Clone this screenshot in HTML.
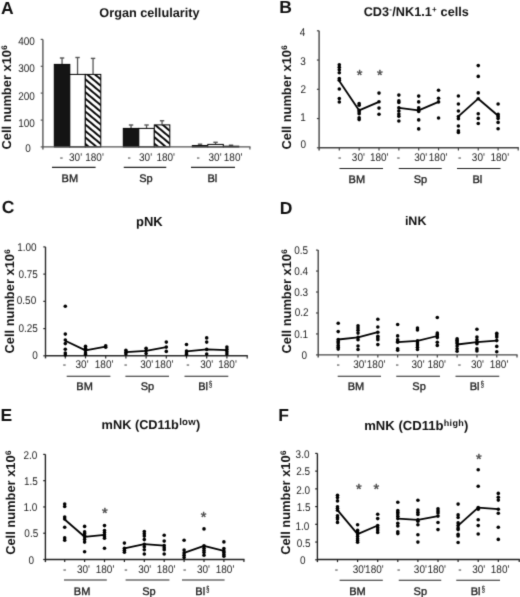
<!DOCTYPE html>
<html><head><meta charset="utf-8"><style>
html,body{margin:0;padding:0;background:#fff;}
svg{display:block;font-family:"Liberation Sans",sans-serif;text-rendering:geometricPrecision;}
#w{width:520px;height:597px;filter:grayscale(1);}
</style></head><body>
<div id="w"><svg width="520" height="597" viewBox="0 0 520 597">
<defs><filter id="soft" x="0" y="0" width="520" height="597" filterUnits="userSpaceOnUse" color-interpolation-filters="sRGB"><feConvolveMatrix order="3" kernelMatrix="1 6 1 6 36 6 1 6 1" divisor="64" edgeMode="duplicate" preserveAlpha="false"/></filter></defs>
<g filter="url(#soft)">
<rect width="520" height="597" fill="#fff"/>
<text x="0.91" y="14.4" font-size="17.5" font-weight="bold" fill="#111" >A</text>
<text x="99.34" y="16.6" font-size="12.7" font-weight="bold" fill="#111"><tspan>Organ cellularity</tspan></text>
<text transform="translate(11.15,149.57) rotate(-90)" font-size="12.9" font-weight="bold" fill="#111">Cell number x10<tspan font-size="8" dx="0.3" dy="-4.2">6</tspan></text>
<line x1="42.9" y1="39.4" x2="42.9" y2="149.5" stroke="#555" stroke-width="1.4"/>
<line x1="40.7" y1="39.4" x2="42.9" y2="39.4" stroke="#555" stroke-width="1.2"/>
<line x1="40.7" y1="66.3" x2="42.9" y2="66.3" stroke="#555" stroke-width="1.2"/>
<line x1="40.7" y1="93.1" x2="42.9" y2="93.1" stroke="#555" stroke-width="1.2"/>
<line x1="40.7" y1="120.1" x2="42.9" y2="120.1" stroke="#555" stroke-width="1.2"/>
<line x1="40.7" y1="146.9" x2="42.9" y2="146.9" stroke="#555" stroke-width="1.2"/>
<text transform="translate(18.25,45.2) scale(1,1.12)" font-size="10" font-weight="normal" fill="#1e1e1e">400</text>
<text transform="translate(18.25,72.0) scale(1,1.12)" font-size="10" font-weight="normal" fill="#1e1e1e">300</text>
<text transform="translate(18.25,99.5) scale(1,1.12)" font-size="10" font-weight="normal" fill="#1e1e1e">200</text>
<text transform="translate(18.25,126.5) scale(1,1.12)" font-size="10" font-weight="normal" fill="#1e1e1e">100</text>
<text transform="translate(25.35,151.9) scale(1,1.12)" font-size="10" font-weight="normal" fill="#1e1e1e">0</text>
<defs><pattern id="hatch" patternUnits="userSpaceOnUse" width="4.95" height="10" patternTransform="translate(84.8,99.5) rotate(-50)">
<rect width="4.95" height="10" fill="#fff"/><rect x="0" y="0" width="1.9" height="10" fill="#000"/></pattern></defs>
<line x1="62.05" y1="58.0" x2="62.05" y2="64.0" stroke="#555" stroke-width="1.3"/>
<line x1="59.85" y1="58.0" x2="64.25" y2="58.0" stroke="#555" stroke-width="1.4"/>
<line x1="77.55" y1="57.5" x2="77.55" y2="74.0" stroke="#555" stroke-width="1.3"/>
<line x1="75.35" y1="57.5" x2="79.75" y2="57.5" stroke="#555" stroke-width="1.4"/>
<line x1="93.05" y1="58.4" x2="93.05" y2="74.0" stroke="#555" stroke-width="1.3"/>
<line x1="90.85" y1="58.4" x2="95.25" y2="58.4" stroke="#555" stroke-width="1.4"/>
<line x1="131.05" y1="125.0" x2="131.05" y2="128.0" stroke="#555" stroke-width="1.3"/>
<line x1="128.85" y1="125.0" x2="133.25" y2="125.0" stroke="#555" stroke-width="1.4"/>
<line x1="146.55" y1="125.0" x2="146.55" y2="128.0" stroke="#555" stroke-width="1.3"/>
<line x1="144.35" y1="125.0" x2="148.75" y2="125.0" stroke="#555" stroke-width="1.4"/>
<line x1="162.05" y1="120.75" x2="162.05" y2="124.5" stroke="#555" stroke-width="1.3"/>
<line x1="159.85" y1="120.75" x2="164.25" y2="120.75" stroke="#555" stroke-width="1.4"/>
<line x1="200.05" y1="144.2" x2="200.05" y2="145.2" stroke="#555" stroke-width="1.3"/>
<line x1="197.85" y1="144.2" x2="202.25" y2="144.2" stroke="#555" stroke-width="1.4"/>
<line x1="215.55" y1="142.3" x2="215.55" y2="144.0" stroke="#555" stroke-width="1.3"/>
<line x1="213.35" y1="142.3" x2="217.75" y2="142.3" stroke="#555" stroke-width="1.4"/>
<line x1="231.05" y1="145.2" x2="231.05" y2="145.8" stroke="#555" stroke-width="1.3"/>
<line x1="228.85" y1="145.2" x2="233.25" y2="145.2" stroke="#555" stroke-width="1.4"/>
<rect x="54.3" y="64.4" width="15.5" height="82.5" fill="#141414" stroke="#000" stroke-width="1"/>
<rect x="69.8" y="74.4" width="15.5" height="72.5" fill="#fff" stroke="#000" stroke-width="1"/>
<rect x="85.3" y="74.4" width="15.5" height="72.5" fill="url(#hatch)" stroke="#000" stroke-width="1"/>
<rect x="123.3" y="128.4" width="15.5" height="18.5" fill="#141414" stroke="#000" stroke-width="1"/>
<rect x="138.8" y="128.4" width="15.5" height="18.5" fill="#fff" stroke="#000" stroke-width="1"/>
<rect x="154.3" y="124.9" width="15.5" height="22.0" fill="url(#hatch)" stroke="#000" stroke-width="1"/>
<rect x="192.3" y="145.6" width="15.5" height="1.3" fill="#141414" stroke="#000" stroke-width="1"/>
<rect x="207.8" y="144.4" width="15.5" height="2.5" fill="#fff" stroke="#000" stroke-width="1"/>
<rect x="223.3" y="146.2" width="15.5" height="0.7" fill="url(#hatch)" stroke="#000" stroke-width="1"/>
<line x1="42.9" y1="146.9" x2="250.5" y2="146.9" stroke="#555" stroke-width="1.4"/>
<line x1="249.9" y1="146.9" x2="249.9" y2="149.5" stroke="#555" stroke-width="1.2"/>
<text transform="translate(59.65,160.8) scale(1,1.12)" font-size="10" font-weight="normal" fill="#1e1e1e" >-</text>
<text transform="translate(69.05,160.8) scale(1,1.12)" font-size="10" font-weight="normal" fill="#1e1e1e" >30'</text>
<text transform="translate(85.2,160.8) scale(1,1.12)" font-size="10" font-weight="normal" fill="#1e1e1e" >180'</text>
<text transform="translate(127.6,160.8) scale(1,1.12)" font-size="10" font-weight="normal" fill="#1e1e1e" >-</text>
<text transform="translate(139.05,160.8) scale(1,1.12)" font-size="10" font-weight="normal" fill="#1e1e1e" >30'</text>
<text transform="translate(156.4,160.8) scale(1,1.12)" font-size="10" font-weight="normal" fill="#1e1e1e" >180'</text>
<text transform="translate(196.6,160.8) scale(1,1.12)" font-size="10" font-weight="normal" fill="#1e1e1e" >-</text>
<text transform="translate(208.55,160.8) scale(1,1.12)" font-size="10" font-weight="normal" fill="#1e1e1e" >30'</text>
<text transform="translate(223.8,160.8) scale(1,1.12)" font-size="10" font-weight="normal" fill="#1e1e1e" >180'</text>
<line x1="52.0" y1="167.4" x2="95.6" y2="167.4" stroke="#222" stroke-width="1.1"/>
<line x1="123.75" y1="167.4" x2="166.25" y2="167.4" stroke="#222" stroke-width="1.1"/>
<line x1="191.0" y1="167.4" x2="235.0" y2="167.4" stroke="#222" stroke-width="1.1"/>
<text x="61.57" y="181.9" font-size="11" fill="#1a1a1a" stroke="#1a1a1a" stroke-width="0.3">BM</text>
<text x="139.16" y="181.9" font-size="11" fill="#1a1a1a" stroke="#1a1a1a" stroke-width="0.3">Sp</text>
<text x="207.47" y="181.9" font-size="11" fill="#1a1a1a" stroke="#1a1a1a" stroke-width="0.3">Bl</text>
<text x="279.21" y="12.7" font-size="17.5" font-weight="bold" fill="#111" >B</text>
<text x="363.64" y="16.3" font-size="12.7" font-weight="bold" fill="#111"><tspan>CD3</tspan><tspan font-size="8" dx="0.3" dy="-4.2" letter-spacing="0.3">-</tspan><tspan dy="4.2">/NK1.1</tspan><tspan font-size="8" dx="0.3" dy="-4.2" letter-spacing="0.3">+</tspan><tspan dy="4.2"> cells</tspan></text>
<text transform="translate(291.15,149.57) rotate(-90)" font-size="12.9" font-weight="bold" fill="#111">Cell number x10<tspan font-size="8" dx="0.3" dy="-4.2">6</tspan></text>
<line x1="319.1" y1="30.8" x2="319.1" y2="150.4" stroke="#444" stroke-width="1.4"/>
<line x1="316.9" y1="30.8" x2="319.1" y2="30.8" stroke="#444" stroke-width="1.2"/>
<line x1="316.9" y1="60.05" x2="319.1" y2="60.05" stroke="#444" stroke-width="1.2"/>
<line x1="316.9" y1="89.3" x2="319.1" y2="89.3" stroke="#444" stroke-width="1.2"/>
<line x1="316.9" y1="118.55" x2="319.1" y2="118.55" stroke="#444" stroke-width="1.2"/>
<line x1="316.9" y1="147.8" x2="319.1" y2="147.8" stroke="#444" stroke-width="1.2"/>
<text transform="translate(299.8,35.8) scale(1,1.12)" font-size="10" font-weight="normal" fill="#1e1e1e">4</text>
<text transform="translate(300.3,64.8) scale(1,1.12)" font-size="10" font-weight="normal" fill="#1e1e1e">3</text>
<text transform="translate(300.6,93.1) scale(1,1.12)" font-size="10" font-weight="normal" fill="#1e1e1e">2</text>
<text transform="translate(300.25,120.6) scale(1,1.12)" font-size="10" font-weight="normal" fill="#1e1e1e">1</text>
<text transform="translate(300.45,148.2) scale(1,1.12)" font-size="10" font-weight="normal" fill="#1e1e1e">0</text>
<line x1="319.1" y1="147.8" x2="518.8" y2="147.8" stroke="#444" stroke-width="1.4"/>
<line x1="339.3" y1="147.8" x2="339.3" y2="150.4" stroke="#444" stroke-width="1.2"/>
<line x1="359.15" y1="147.8" x2="359.15" y2="150.4" stroke="#444" stroke-width="1.2"/>
<line x1="379.0" y1="147.8" x2="379.0" y2="150.4" stroke="#444" stroke-width="1.2"/>
<line x1="398.85" y1="147.8" x2="398.85" y2="150.4" stroke="#444" stroke-width="1.2"/>
<line x1="418.7" y1="147.8" x2="418.7" y2="150.4" stroke="#444" stroke-width="1.2"/>
<line x1="438.55" y1="147.8" x2="438.55" y2="150.4" stroke="#444" stroke-width="1.2"/>
<line x1="458.4" y1="147.8" x2="458.4" y2="150.4" stroke="#444" stroke-width="1.2"/>
<line x1="478.25" y1="147.8" x2="478.25" y2="150.4" stroke="#444" stroke-width="1.2"/>
<line x1="498.1" y1="147.8" x2="498.1" y2="150.4" stroke="#444" stroke-width="1.2"/>
<line x1="518.2" y1="147.8" x2="518.2" y2="150.4" stroke="#444" stroke-width="1.2"/>
<polyline points="339.3,81.0 359.15,110.4 379.0,101.8" fill="none" stroke="#000" stroke-width="1.8" stroke-linejoin="round"/>
<polyline points="398.85,107.8 418.7,110.4 438.55,101.9" fill="none" stroke="#000" stroke-width="1.8" stroke-linejoin="round"/>
<polyline points="458.4,116.4 478.25,98.7 498.1,115.7" fill="none" stroke="#000" stroke-width="1.8" stroke-linejoin="round"/>
<circle cx="339.3" cy="64.7" r="1.8" fill="#000"/>
<circle cx="339.3" cy="67.2" r="1.8" fill="#000"/>
<circle cx="339.3" cy="69.7" r="1.8" fill="#000"/>
<circle cx="339.3" cy="72.7" r="1.8" fill="#000"/>
<circle cx="339.3" cy="78.5" r="1.8" fill="#000"/>
<circle cx="339.3" cy="80.2" r="1.8" fill="#000"/>
<circle cx="339.3" cy="89.0" r="1.8" fill="#000"/>
<circle cx="339.3" cy="98.6" r="1.8" fill="#000"/>
<circle cx="339.3" cy="102.0" r="1.8" fill="#000"/>
<circle cx="359.15" cy="103.5" r="1.8" fill="#000"/>
<circle cx="359.15" cy="105.2" r="1.8" fill="#000"/>
<circle cx="359.15" cy="110.4" r="1.8" fill="#000"/>
<circle cx="359.15" cy="111.9" r="1.8" fill="#000"/>
<circle cx="359.15" cy="113.8" r="1.8" fill="#000"/>
<circle cx="359.15" cy="117.7" r="1.8" fill="#000"/>
<circle cx="359.15" cy="119.6" r="1.8" fill="#000"/>
<circle cx="379.0" cy="93.1" r="1.8" fill="#000"/>
<circle cx="379.0" cy="101.8" r="1.8" fill="#000"/>
<circle cx="379.0" cy="108.1" r="1.8" fill="#000"/>
<circle cx="379.0" cy="114.2" r="1.8" fill="#000"/>
<circle cx="398.85" cy="95.1" r="1.8" fill="#000"/>
<circle cx="398.85" cy="100.9" r="1.8" fill="#000"/>
<circle cx="398.85" cy="102.5" r="1.8" fill="#000"/>
<circle cx="398.85" cy="107.8" r="1.8" fill="#000"/>
<circle cx="398.85" cy="110.9" r="1.8" fill="#000"/>
<circle cx="398.85" cy="114.1" r="1.8" fill="#000"/>
<circle cx="398.85" cy="116.2" r="1.8" fill="#000"/>
<circle cx="398.85" cy="121.0" r="1.8" fill="#000"/>
<circle cx="418.7" cy="96.1" r="1.8" fill="#000"/>
<circle cx="418.7" cy="101.9" r="1.8" fill="#000"/>
<circle cx="418.7" cy="107.8" r="1.8" fill="#000"/>
<circle cx="418.7" cy="109.9" r="1.8" fill="#000"/>
<circle cx="418.7" cy="111.5" r="1.8" fill="#000"/>
<circle cx="418.7" cy="119.9" r="1.8" fill="#000"/>
<circle cx="418.7" cy="128.9" r="1.8" fill="#000"/>
<circle cx="438.55" cy="90.3" r="1.8" fill="#000"/>
<circle cx="438.55" cy="98.2" r="1.8" fill="#000"/>
<circle cx="438.55" cy="101.9" r="1.8" fill="#000"/>
<circle cx="438.55" cy="118.0" r="1.8" fill="#000"/>
<circle cx="458.4" cy="96.0" r="1.8" fill="#000"/>
<circle cx="458.4" cy="104.0" r="1.8" fill="#000"/>
<circle cx="458.4" cy="111.0" r="1.8" fill="#000"/>
<circle cx="458.4" cy="116.6" r="1.8" fill="#000"/>
<circle cx="458.4" cy="118.8" r="1.8" fill="#000"/>
<circle cx="458.4" cy="126.0" r="1.8" fill="#000"/>
<circle cx="458.4" cy="130.9" r="1.8" fill="#000"/>
<circle cx="458.4" cy="132.5" r="1.8" fill="#000"/>
<circle cx="478.25" cy="65.6" r="1.8" fill="#000"/>
<circle cx="478.25" cy="76.4" r="1.8" fill="#000"/>
<circle cx="478.25" cy="92.9" r="1.8" fill="#000"/>
<circle cx="478.25" cy="98.7" r="1.8" fill="#000"/>
<circle cx="478.25" cy="113.7" r="1.8" fill="#000"/>
<circle cx="478.25" cy="118.4" r="1.8" fill="#000"/>
<circle cx="478.25" cy="123.5" r="1.8" fill="#000"/>
<circle cx="498.1" cy="104.0" r="1.8" fill="#000"/>
<circle cx="498.1" cy="114.4" r="1.8" fill="#000"/>
<circle cx="498.1" cy="116.4" r="1.8" fill="#000"/>
<circle cx="498.1" cy="118.4" r="1.8" fill="#000"/>
<circle cx="498.1" cy="122.4" r="1.8" fill="#000"/>
<circle cx="498.1" cy="128.7" r="1.8" fill="#000"/>
<text x="359.6" y="79.65" font-size="14.5" text-anchor="middle" fill="#4a4a4a" stroke="#4a4a4a" stroke-width="0.45" stroke-linejoin="round">*</text>
<text x="379.8" y="79.65" font-size="14.5" text-anchor="middle" fill="#4a4a4a" stroke="#4a4a4a" stroke-width="0.45" stroke-linejoin="round">*</text>
<text transform="translate(337.9,160.9) scale(1,1.12)" font-size="10" font-weight="normal" fill="#1e1e1e" >-</text>
<text transform="translate(351.85,160.9) scale(1,1.12)" font-size="10" font-weight="normal" fill="#1e1e1e" >30'</text>
<text transform="translate(369.9,160.9) scale(1,1.12)" font-size="10" font-weight="normal" fill="#1e1e1e" >180'</text>
<text transform="translate(396.8,160.9) scale(1,1.12)" font-size="10" font-weight="normal" fill="#1e1e1e" >-</text>
<text transform="translate(414.15,160.9) scale(1,1.12)" font-size="10" font-weight="normal" fill="#1e1e1e" >30'</text>
<text transform="translate(428.8,160.9) scale(1,1.12)" font-size="10" font-weight="normal" fill="#1e1e1e" >180'</text>
<text transform="translate(457.9,160.9) scale(1,1.12)" font-size="10" font-weight="normal" fill="#1e1e1e" >-</text>
<text transform="translate(471.85,160.9) scale(1,1.12)" font-size="10" font-weight="normal" fill="#1e1e1e" >30'</text>
<text transform="translate(490.5,160.9) scale(1,1.12)" font-size="10" font-weight="normal" fill="#1e1e1e" >180'</text>
<line x1="339.5" y1="168.5" x2="383.0" y2="168.5" stroke="#222" stroke-width="1.1"/>
<line x1="398.75" y1="168.5" x2="441.75" y2="168.5" stroke="#222" stroke-width="1.1"/>
<line x1="457.0" y1="168.5" x2="500.5" y2="168.5" stroke="#222" stroke-width="1.1"/>
<text x="348.57" y="182.9" font-size="11" fill="#1a1a1a" stroke="#1a1a1a" stroke-width="0.3">BM</text>
<text x="413.66" y="182.9" font-size="11" fill="#1a1a1a" stroke="#1a1a1a" stroke-width="0.3">Sp</text>
<text x="472.47" y="182.9" font-size="11" fill="#1a1a1a" stroke="#1a1a1a" stroke-width="0.3">Bl</text>
<text x="1.75" y="213.4" font-size="17.5" font-weight="bold" fill="#111" >C</text>
<text x="136.0" y="225.9" font-size="13" font-weight="bold" fill="#111"><tspan>pNK</tspan></text>
<text transform="translate(14.35,353.57) rotate(-90)" font-size="12.9" font-weight="bold" fill="#111">Cell number x10<tspan font-size="8" dx="0.3" dy="-4.2">6</tspan></text>
<line x1="45.5" y1="246.9" x2="45.5" y2="358.4" stroke="#2a2a2a" stroke-width="1.4"/>
<line x1="43.3" y1="246.9" x2="45.5" y2="246.9" stroke="#2a2a2a" stroke-width="1.2"/>
<line x1="43.3" y1="274.12" x2="45.5" y2="274.12" stroke="#2a2a2a" stroke-width="1.2"/>
<line x1="43.3" y1="301.35" x2="45.5" y2="301.35" stroke="#2a2a2a" stroke-width="1.2"/>
<line x1="43.3" y1="328.58" x2="45.5" y2="328.58" stroke="#2a2a2a" stroke-width="1.2"/>
<line x1="43.3" y1="355.8" x2="45.5" y2="355.8" stroke="#2a2a2a" stroke-width="1.2"/>
<text transform="translate(17.15,250.8) scale(1,1.12)" font-size="10" font-weight="normal" fill="#1e1e1e">1.00</text>
<text transform="translate(18.4,277.9) scale(1,1.12)" font-size="10" font-weight="normal" fill="#1e1e1e">0.75</text>
<text transform="translate(16.75,304.2) scale(1,1.12)" font-size="10" font-weight="normal" fill="#1e1e1e">0.50</text>
<text transform="translate(18.4,332.2) scale(1,1.12)" font-size="10" font-weight="normal" fill="#1e1e1e">0.25</text>
<text transform="translate(32.25,358.5) scale(1,1.12)" font-size="10" font-weight="normal" fill="#1e1e1e">0</text>
<line x1="45.5" y1="355.8" x2="247.8" y2="355.8" stroke="#2a2a2a" stroke-width="1.4"/>
<line x1="65.3" y1="355.8" x2="65.3" y2="358.4" stroke="#2a2a2a" stroke-width="1.2"/>
<line x1="85.5" y1="355.8" x2="85.5" y2="358.4" stroke="#2a2a2a" stroke-width="1.2"/>
<line x1="105.7" y1="355.8" x2="105.7" y2="358.4" stroke="#2a2a2a" stroke-width="1.2"/>
<line x1="125.9" y1="355.8" x2="125.9" y2="358.4" stroke="#2a2a2a" stroke-width="1.2"/>
<line x1="146.1" y1="355.8" x2="146.1" y2="358.4" stroke="#2a2a2a" stroke-width="1.2"/>
<line x1="166.3" y1="355.8" x2="166.3" y2="358.4" stroke="#2a2a2a" stroke-width="1.2"/>
<line x1="186.5" y1="355.8" x2="186.5" y2="358.4" stroke="#2a2a2a" stroke-width="1.2"/>
<line x1="206.7" y1="355.8" x2="206.7" y2="358.4" stroke="#2a2a2a" stroke-width="1.2"/>
<line x1="226.9" y1="355.8" x2="226.9" y2="358.4" stroke="#2a2a2a" stroke-width="1.2"/>
<line x1="247.2" y1="355.8" x2="247.2" y2="358.4" stroke="#2a2a2a" stroke-width="1.2"/>
<polyline points="65.3,340.7 85.5,350.4 105.7,346.7" fill="none" stroke="#000" stroke-width="1.8" stroke-linejoin="round"/>
<polyline points="125.9,352.1 146.1,350.9 166.3,347.1" fill="none" stroke="#000" stroke-width="1.8" stroke-linejoin="round"/>
<polyline points="186.5,351.4 206.7,349.4 226.9,350.2" fill="none" stroke="#000" stroke-width="1.8" stroke-linejoin="round"/>
<circle cx="65.3" cy="306.2" r="1.8" fill="#000"/>
<circle cx="65.3" cy="334.1" r="1.8" fill="#000"/>
<circle cx="65.3" cy="340.0" r="1.8" fill="#000"/>
<circle cx="65.3" cy="343.6" r="1.8" fill="#000"/>
<circle cx="65.3" cy="349.3" r="1.8" fill="#000"/>
<circle cx="65.3" cy="353.0" r="1.8" fill="#000"/>
<circle cx="65.3" cy="355.0" r="1.8" fill="#000"/>
<circle cx="85.5" cy="346.2" r="1.8" fill="#000"/>
<circle cx="85.5" cy="348.3" r="1.8" fill="#000"/>
<circle cx="85.5" cy="350.4" r="1.8" fill="#000"/>
<circle cx="85.5" cy="353.0" r="1.8" fill="#000"/>
<circle cx="85.5" cy="354.5" r="1.8" fill="#000"/>
<circle cx="105.7" cy="345.7" r="1.8" fill="#000"/>
<circle cx="105.7" cy="347.2" r="1.8" fill="#000"/>
<circle cx="125.9" cy="350.2" r="1.8" fill="#000"/>
<circle cx="125.9" cy="352.3" r="1.8" fill="#000"/>
<circle cx="125.9" cy="354.0" r="1.8" fill="#000"/>
<circle cx="146.1" cy="348.3" r="1.8" fill="#000"/>
<circle cx="146.1" cy="350.6" r="1.8" fill="#000"/>
<circle cx="146.1" cy="353.5" r="1.8" fill="#000"/>
<circle cx="166.3" cy="342.1" r="1.8" fill="#000"/>
<circle cx="166.3" cy="347.1" r="1.8" fill="#000"/>
<circle cx="166.3" cy="351.4" r="1.8" fill="#000"/>
<circle cx="186.5" cy="344.5" r="1.8" fill="#000"/>
<circle cx="186.5" cy="351.1" r="1.8" fill="#000"/>
<circle cx="186.5" cy="352.9" r="1.8" fill="#000"/>
<circle cx="186.5" cy="354.6" r="1.8" fill="#000"/>
<circle cx="206.7" cy="337.9" r="1.8" fill="#000"/>
<circle cx="206.7" cy="342.1" r="1.8" fill="#000"/>
<circle cx="206.7" cy="349.4" r="1.8" fill="#000"/>
<circle cx="206.7" cy="354.0" r="1.8" fill="#000"/>
<circle cx="226.9" cy="347.1" r="1.8" fill="#000"/>
<circle cx="226.9" cy="349.4" r="1.8" fill="#000"/>
<circle cx="226.9" cy="351.7" r="1.8" fill="#000"/>
<circle cx="226.9" cy="354.0" r="1.8" fill="#000"/>
<text transform="translate(62.8,368.0) scale(1,1.12)" font-size="10" font-weight="normal" fill="#1e1e1e" >-</text>
<text transform="translate(75.55,368.0) scale(1,1.12)" font-size="10" font-weight="normal" fill="#1e1e1e" >30'</text>
<text transform="translate(94.8,368.0) scale(1,1.12)" font-size="10" font-weight="normal" fill="#1e1e1e" >180'</text>
<text transform="translate(123.9,368.0) scale(1,1.12)" font-size="10" font-weight="normal" fill="#1e1e1e" >-</text>
<text transform="translate(140.15,368.0) scale(1,1.12)" font-size="10" font-weight="normal" fill="#1e1e1e" >30'</text>
<text transform="translate(154.8,368.0) scale(1,1.12)" font-size="10" font-weight="normal" fill="#1e1e1e" >180'</text>
<text transform="translate(186.2,368.0) scale(1,1.12)" font-size="10" font-weight="normal" fill="#1e1e1e" >-</text>
<text transform="translate(200.15,368.0) scale(1,1.12)" font-size="10" font-weight="normal" fill="#1e1e1e" >30'</text>
<text transform="translate(218.2,368.0) scale(1,1.12)" font-size="10" font-weight="normal" fill="#1e1e1e" >180'</text>
<line x1="66.7" y1="376.3" x2="110.4" y2="376.3" stroke="#222" stroke-width="1.1"/>
<line x1="125.4" y1="376.3" x2="169.0" y2="376.3" stroke="#222" stroke-width="1.1"/>
<line x1="184.5" y1="376.3" x2="228.3" y2="376.3" stroke="#222" stroke-width="1.1"/>
<text x="76.37" y="389.7" font-size="11" fill="#1a1a1a" stroke="#1a1a1a" stroke-width="0.3">BM</text>
<text x="140.66" y="389.7" font-size="11" fill="#1a1a1a" stroke="#1a1a1a" stroke-width="0.3">Sp</text>
<text x="198.17" y="389.7" font-size="11" fill="#1a1a1a" stroke="#1a1a1a" stroke-width="0.3">Bl</text>
<text transform="translate(209.09,387.1) scale(0.65,1)" font-size="8.6" fill="#222" stroke="#222" stroke-width="0.25">§</text>
<text x="279.81" y="213.6" font-size="17.5" font-weight="bold" fill="#111" >D</text>
<text x="404.88" y="225.4" font-size="12.5" font-weight="bold" fill="#111"><tspan>iNK</tspan></text>
<text transform="translate(291.15,353.57) rotate(-90)" font-size="12.9" font-weight="bold" fill="#111">Cell number x10<tspan font-size="8" dx="0.3" dy="-4.2">6</tspan></text>
<line x1="318.2" y1="250.1" x2="318.2" y2="357.5" stroke="#444" stroke-width="1.4"/>
<line x1="316.0" y1="250.1" x2="318.2" y2="250.1" stroke="#444" stroke-width="1.2"/>
<line x1="316.0" y1="271.06" x2="318.2" y2="271.06" stroke="#444" stroke-width="1.2"/>
<line x1="316.0" y1="292.02" x2="318.2" y2="292.02" stroke="#444" stroke-width="1.2"/>
<line x1="316.0" y1="312.98" x2="318.2" y2="312.98" stroke="#444" stroke-width="1.2"/>
<line x1="316.0" y1="333.94" x2="318.2" y2="333.94" stroke="#444" stroke-width="1.2"/>
<line x1="316.0" y1="354.9" x2="318.2" y2="354.9" stroke="#444" stroke-width="1.2"/>
<text transform="translate(294.25,253.7) scale(1,1.12)" font-size="10" font-weight="normal" fill="#1e1e1e">0.5</text>
<text transform="translate(294.15,274.7) scale(1,1.12)" font-size="10" font-weight="normal" fill="#1e1e1e">0.4</text>
<text transform="translate(294.25,295.7) scale(1,1.12)" font-size="10" font-weight="normal" fill="#1e1e1e">0.3</text>
<text transform="translate(294.65,316.3) scale(1,1.12)" font-size="10" font-weight="normal" fill="#1e1e1e">0.2</text>
<text transform="translate(294.2,337.6) scale(1,1.12)" font-size="10" font-weight="normal" fill="#1e1e1e">0.1</text>
<text transform="translate(301.55,358.9) scale(1,1.12)" font-size="10" font-weight="normal" fill="#1e1e1e">0</text>
<line x1="318.2" y1="354.9" x2="517.6" y2="354.9" stroke="#444" stroke-width="1.4"/>
<line x1="338.2" y1="354.9" x2="338.2" y2="357.5" stroke="#444" stroke-width="1.2"/>
<line x1="358.02" y1="354.9" x2="358.02" y2="357.5" stroke="#444" stroke-width="1.2"/>
<line x1="377.84" y1="354.9" x2="377.84" y2="357.5" stroke="#444" stroke-width="1.2"/>
<line x1="397.66" y1="354.9" x2="397.66" y2="357.5" stroke="#444" stroke-width="1.2"/>
<line x1="417.48" y1="354.9" x2="417.48" y2="357.5" stroke="#444" stroke-width="1.2"/>
<line x1="437.3" y1="354.9" x2="437.3" y2="357.5" stroke="#444" stroke-width="1.2"/>
<line x1="457.12" y1="354.9" x2="457.12" y2="357.5" stroke="#444" stroke-width="1.2"/>
<line x1="476.94" y1="354.9" x2="476.94" y2="357.5" stroke="#444" stroke-width="1.2"/>
<line x1="496.76" y1="354.9" x2="496.76" y2="357.5" stroke="#444" stroke-width="1.2"/>
<line x1="517.0" y1="354.9" x2="517.0" y2="357.5" stroke="#444" stroke-width="1.2"/>
<polyline points="338.2,339.5 358.02,337.4 377.84,332.2" fill="none" stroke="#000" stroke-width="1.8" stroke-linejoin="round"/>
<polyline points="397.66,342.2 417.48,340.8 437.3,336.0" fill="none" stroke="#000" stroke-width="1.8" stroke-linejoin="round"/>
<polyline points="457.12,344.5 476.94,342.2 496.76,340.6" fill="none" stroke="#000" stroke-width="1.8" stroke-linejoin="round"/>
<circle cx="338.2" cy="323.3" r="1.8" fill="#000"/>
<circle cx="338.2" cy="331.6" r="1.8" fill="#000"/>
<circle cx="338.2" cy="339.5" r="1.8" fill="#000"/>
<circle cx="338.2" cy="341.4" r="1.8" fill="#000"/>
<circle cx="338.2" cy="343.1" r="1.8" fill="#000"/>
<circle cx="338.2" cy="345.4" r="1.8" fill="#000"/>
<circle cx="338.2" cy="347.2" r="1.8" fill="#000"/>
<circle cx="338.2" cy="349.1" r="1.8" fill="#000"/>
<circle cx="358.02" cy="325.8" r="1.8" fill="#000"/>
<circle cx="358.02" cy="328.1" r="1.8" fill="#000"/>
<circle cx="358.02" cy="330.2" r="1.8" fill="#000"/>
<circle cx="358.02" cy="333.1" r="1.8" fill="#000"/>
<circle cx="358.02" cy="337.4" r="1.8" fill="#000"/>
<circle cx="358.02" cy="339.7" r="1.8" fill="#000"/>
<circle cx="358.02" cy="346.0" r="1.8" fill="#000"/>
<circle cx="358.02" cy="349.5" r="1.8" fill="#000"/>
<circle cx="377.84" cy="319.2" r="1.8" fill="#000"/>
<circle cx="377.84" cy="327.0" r="1.8" fill="#000"/>
<circle cx="377.84" cy="332.2" r="1.8" fill="#000"/>
<circle cx="377.84" cy="336.2" r="1.8" fill="#000"/>
<circle cx="377.84" cy="338.0" r="1.8" fill="#000"/>
<circle cx="377.84" cy="339.7" r="1.8" fill="#000"/>
<circle cx="377.84" cy="344.6" r="1.8" fill="#000"/>
<circle cx="397.66" cy="324.5" r="1.8" fill="#000"/>
<circle cx="397.66" cy="335.9" r="1.8" fill="#000"/>
<circle cx="397.66" cy="339.7" r="1.8" fill="#000"/>
<circle cx="397.66" cy="341.4" r="1.8" fill="#000"/>
<circle cx="397.66" cy="342.2" r="1.8" fill="#000"/>
<circle cx="397.66" cy="348.7" r="1.8" fill="#000"/>
<circle cx="397.66" cy="350.3" r="1.8" fill="#000"/>
<circle cx="417.48" cy="328.1" r="1.8" fill="#000"/>
<circle cx="417.48" cy="329.9" r="1.8" fill="#000"/>
<circle cx="417.48" cy="340.8" r="1.8" fill="#000"/>
<circle cx="417.48" cy="342.9" r="1.8" fill="#000"/>
<circle cx="417.48" cy="344.9" r="1.8" fill="#000"/>
<circle cx="417.48" cy="347.2" r="1.8" fill="#000"/>
<circle cx="417.48" cy="349.5" r="1.8" fill="#000"/>
<circle cx="437.3" cy="317.5" r="1.8" fill="#000"/>
<circle cx="437.3" cy="333.0" r="1.8" fill="#000"/>
<circle cx="437.3" cy="334.5" r="1.8" fill="#000"/>
<circle cx="437.3" cy="336.0" r="1.8" fill="#000"/>
<circle cx="437.3" cy="337.6" r="1.8" fill="#000"/>
<circle cx="437.3" cy="342.2" r="1.8" fill="#000"/>
<circle cx="437.3" cy="345.4" r="1.8" fill="#000"/>
<circle cx="457.12" cy="338.8" r="1.8" fill="#000"/>
<circle cx="457.12" cy="340.3" r="1.8" fill="#000"/>
<circle cx="457.12" cy="341.8" r="1.8" fill="#000"/>
<circle cx="457.12" cy="343.4" r="1.8" fill="#000"/>
<circle cx="457.12" cy="346.0" r="1.8" fill="#000"/>
<circle cx="457.12" cy="348.7" r="1.8" fill="#000"/>
<circle cx="457.12" cy="351.2" r="1.8" fill="#000"/>
<circle cx="476.94" cy="329.3" r="1.8" fill="#000"/>
<circle cx="476.94" cy="337.1" r="1.8" fill="#000"/>
<circle cx="476.94" cy="339.7" r="1.8" fill="#000"/>
<circle cx="476.94" cy="342.2" r="1.8" fill="#000"/>
<circle cx="476.94" cy="343.7" r="1.8" fill="#000"/>
<circle cx="476.94" cy="348.9" r="1.8" fill="#000"/>
<circle cx="476.94" cy="351.0" r="1.8" fill="#000"/>
<circle cx="496.76" cy="333.3" r="1.8" fill="#000"/>
<circle cx="496.76" cy="335.1" r="1.8" fill="#000"/>
<circle cx="496.76" cy="337.1" r="1.8" fill="#000"/>
<circle cx="496.76" cy="340.6" r="1.8" fill="#000"/>
<circle cx="496.76" cy="346.4" r="1.8" fill="#000"/>
<circle cx="496.76" cy="351.8" r="1.8" fill="#000"/>
<text transform="translate(336.5,367.7) scale(1,1.12)" font-size="10" font-weight="normal" fill="#1e1e1e" >-</text>
<text transform="translate(353.25,367.7) scale(1,1.12)" font-size="10" font-weight="normal" fill="#1e1e1e" >30'</text>
<text transform="translate(366.8,367.7) scale(1,1.12)" font-size="10" font-weight="normal" fill="#1e1e1e" >180'</text>
<text transform="translate(395.4,367.7) scale(1,1.12)" font-size="10" font-weight="normal" fill="#1e1e1e" >-</text>
<text transform="translate(411.55,367.7) scale(1,1.12)" font-size="10" font-weight="normal" fill="#1e1e1e" >30'</text>
<text transform="translate(427.4,367.7) scale(1,1.12)" font-size="10" font-weight="normal" fill="#1e1e1e" >180'</text>
<text transform="translate(457.7,367.7) scale(1,1.12)" font-size="10" font-weight="normal" fill="#1e1e1e" >-</text>
<text transform="translate(470.95,367.7) scale(1,1.12)" font-size="10" font-weight="normal" fill="#1e1e1e" >30'</text>
<text transform="translate(489.7,367.7) scale(1,1.12)" font-size="10" font-weight="normal" fill="#1e1e1e" >180'</text>
<line x1="337.7" y1="376.2" x2="381.0" y2="376.2" stroke="#222" stroke-width="1.1"/>
<line x1="396.25" y1="376.2" x2="440.0" y2="376.2" stroke="#222" stroke-width="1.1"/>
<line x1="455.5" y1="376.2" x2="499.25" y2="376.2" stroke="#222" stroke-width="1.1"/>
<text x="347.67" y="390.0" font-size="11" fill="#1a1a1a" stroke="#1a1a1a" stroke-width="0.3">BM</text>
<text x="412.36" y="390.0" font-size="11" fill="#1a1a1a" stroke="#1a1a1a" stroke-width="0.3">Sp</text>
<text x="469.77" y="390.0" font-size="11" fill="#1a1a1a" stroke="#1a1a1a" stroke-width="0.3">Bl</text>
<text transform="translate(480.69,387.4) scale(0.65,1)" font-size="8.6" fill="#222" stroke="#222" stroke-width="0.25">§</text>
<text x="0.56" y="420.8" font-size="17.5" font-weight="bold" fill="#111" >E</text>
<text x="101.62" y="428.9" font-size="12.75" font-weight="bold" fill="#111"><tspan>mNK (CD11b</tspan><tspan font-size="9.6" dx="0.3" dy="-3.9" letter-spacing="0.3">low</tspan><tspan dy="3.9">)</tspan></text>
<text transform="translate(15.45,554.87) rotate(-90)" font-size="12.9" font-weight="bold" fill="#111">Cell number x10<tspan font-size="8" dx="0.3" dy="-4.2">6</tspan></text>
<line x1="45.4" y1="454.4" x2="45.4" y2="562.1" stroke="#222" stroke-width="1.4"/>
<line x1="43.2" y1="454.4" x2="45.4" y2="454.4" stroke="#222" stroke-width="1.2"/>
<line x1="43.2" y1="480.67" x2="45.4" y2="480.67" stroke="#222" stroke-width="1.2"/>
<line x1="43.2" y1="506.95" x2="45.4" y2="506.95" stroke="#222" stroke-width="1.2"/>
<line x1="43.2" y1="533.22" x2="45.4" y2="533.22" stroke="#222" stroke-width="1.2"/>
<line x1="43.2" y1="559.5" x2="45.4" y2="559.5" stroke="#222" stroke-width="1.2"/>
<text transform="translate(23.4,458.9) scale(1,1.12)" font-size="10" font-weight="normal" fill="#1e1e1e">2.0</text>
<text transform="translate(23.95,485.2) scale(1,1.12)" font-size="10" font-weight="normal" fill="#1e1e1e">1.5</text>
<text transform="translate(23.4,511.4) scale(1,1.12)" font-size="10" font-weight="normal" fill="#1e1e1e">1.0</text>
<text transform="translate(24.35,537.4) scale(1,1.12)" font-size="10" font-weight="normal" fill="#1e1e1e">0.5</text>
<text transform="translate(28.45,563.6) scale(1,1.12)" font-size="10" font-weight="normal" fill="#1e1e1e">0</text>
<line x1="45.4" y1="559.5" x2="244.5" y2="559.5" stroke="#222" stroke-width="1.4"/>
<line x1="64.7" y1="559.5" x2="64.7" y2="562.1" stroke="#222" stroke-width="1.2"/>
<line x1="84.6" y1="559.5" x2="84.6" y2="562.1" stroke="#222" stroke-width="1.2"/>
<line x1="104.5" y1="559.5" x2="104.5" y2="562.1" stroke="#222" stroke-width="1.2"/>
<line x1="124.4" y1="559.5" x2="124.4" y2="562.1" stroke="#222" stroke-width="1.2"/>
<line x1="144.3" y1="559.5" x2="144.3" y2="562.1" stroke="#222" stroke-width="1.2"/>
<line x1="164.2" y1="559.5" x2="164.2" y2="562.1" stroke="#222" stroke-width="1.2"/>
<line x1="184.1" y1="559.5" x2="184.1" y2="562.1" stroke="#222" stroke-width="1.2"/>
<line x1="204.0" y1="559.5" x2="204.0" y2="562.1" stroke="#222" stroke-width="1.2"/>
<line x1="223.9" y1="559.5" x2="223.9" y2="562.1" stroke="#222" stroke-width="1.2"/>
<line x1="243.9" y1="559.5" x2="243.9" y2="562.1" stroke="#222" stroke-width="1.2"/>
<polyline points="64.7,519.5 84.6,536.8 104.5,534.8" fill="none" stroke="#000" stroke-width="1.8" stroke-linejoin="round"/>
<polyline points="124.4,548.3 144.3,544.2 164.2,545.6" fill="none" stroke="#000" stroke-width="1.8" stroke-linejoin="round"/>
<polyline points="184.1,552.9 204.0,545.9 223.9,550.9" fill="none" stroke="#000" stroke-width="1.8" stroke-linejoin="round"/>
<circle cx="64.7" cy="504.0" r="1.8" fill="#000"/>
<circle cx="64.7" cy="506.5" r="1.8" fill="#000"/>
<circle cx="64.7" cy="517.1" r="1.8" fill="#000"/>
<circle cx="64.7" cy="519.0" r="1.8" fill="#000"/>
<circle cx="64.7" cy="527.3" r="1.8" fill="#000"/>
<circle cx="64.7" cy="537.9" r="1.8" fill="#000"/>
<circle cx="64.7" cy="540.2" r="1.8" fill="#000"/>
<circle cx="84.6" cy="526.4" r="1.8" fill="#000"/>
<circle cx="84.6" cy="531.9" r="1.8" fill="#000"/>
<circle cx="84.6" cy="533.6" r="1.8" fill="#000"/>
<circle cx="84.6" cy="535.4" r="1.8" fill="#000"/>
<circle cx="84.6" cy="536.8" r="1.8" fill="#000"/>
<circle cx="84.6" cy="539.4" r="1.8" fill="#000"/>
<circle cx="84.6" cy="542.1" r="1.8" fill="#000"/>
<circle cx="84.6" cy="551.7" r="1.8" fill="#000"/>
<circle cx="104.5" cy="525.6" r="1.8" fill="#000"/>
<circle cx="104.5" cy="530.5" r="1.8" fill="#000"/>
<circle cx="104.5" cy="532.5" r="1.8" fill="#000"/>
<circle cx="104.5" cy="534.8" r="1.8" fill="#000"/>
<circle cx="104.5" cy="536.8" r="1.8" fill="#000"/>
<circle cx="104.5" cy="538.3" r="1.8" fill="#000"/>
<circle cx="104.5" cy="548.3" r="1.8" fill="#000"/>
<circle cx="124.4" cy="543.1" r="1.8" fill="#000"/>
<circle cx="124.4" cy="548.3" r="1.8" fill="#000"/>
<circle cx="124.4" cy="550.2" r="1.8" fill="#000"/>
<circle cx="124.4" cy="552.3" r="1.8" fill="#000"/>
<circle cx="144.3" cy="531.5" r="1.8" fill="#000"/>
<circle cx="144.3" cy="533.8" r="1.8" fill="#000"/>
<circle cx="144.3" cy="536.1" r="1.8" fill="#000"/>
<circle cx="144.3" cy="539.6" r="1.8" fill="#000"/>
<circle cx="144.3" cy="544.2" r="1.8" fill="#000"/>
<circle cx="144.3" cy="546.8" r="1.8" fill="#000"/>
<circle cx="144.3" cy="549.8" r="1.8" fill="#000"/>
<circle cx="144.3" cy="554.0" r="1.8" fill="#000"/>
<circle cx="164.2" cy="535.2" r="1.8" fill="#000"/>
<circle cx="164.2" cy="541.1" r="1.8" fill="#000"/>
<circle cx="164.2" cy="545.6" r="1.8" fill="#000"/>
<circle cx="164.2" cy="547.7" r="1.8" fill="#000"/>
<circle cx="164.2" cy="549.8" r="1.8" fill="#000"/>
<circle cx="164.2" cy="554.0" r="1.8" fill="#000"/>
<circle cx="184.1" cy="540.2" r="1.8" fill="#000"/>
<circle cx="184.1" cy="550.0" r="1.8" fill="#000"/>
<circle cx="184.1" cy="552.9" r="1.8" fill="#000"/>
<circle cx="184.1" cy="555.2" r="1.8" fill="#000"/>
<circle cx="184.1" cy="557.5" r="1.8" fill="#000"/>
<circle cx="204.0" cy="528.9" r="1.8" fill="#000"/>
<circle cx="204.0" cy="545.9" r="1.8" fill="#000"/>
<circle cx="204.0" cy="548.3" r="1.8" fill="#000"/>
<circle cx="204.0" cy="550.6" r="1.8" fill="#000"/>
<circle cx="204.0" cy="552.5" r="1.8" fill="#000"/>
<circle cx="204.0" cy="555.2" r="1.8" fill="#000"/>
<circle cx="223.9" cy="541.9" r="1.8" fill="#000"/>
<circle cx="223.9" cy="548.6" r="1.8" fill="#000"/>
<circle cx="223.9" cy="550.9" r="1.8" fill="#000"/>
<circle cx="223.9" cy="552.5" r="1.8" fill="#000"/>
<circle cx="223.9" cy="554.6" r="1.8" fill="#000"/>
<circle cx="223.9" cy="556.3" r="1.8" fill="#000"/>
<text x="104.8" y="518.35" font-size="14.5" text-anchor="middle" fill="#4a4a4a" stroke="#4a4a4a" stroke-width="0.45" stroke-linejoin="round">*</text>
<text x="203.7" y="521.85" font-size="14.5" text-anchor="middle" fill="#4a4a4a" stroke="#4a4a4a" stroke-width="0.45" stroke-linejoin="round">*</text>
<text transform="translate(63.1,572.8) scale(1,1.12)" font-size="10" font-weight="normal" fill="#1e1e1e" >-</text>
<text transform="translate(76.95,572.8) scale(1,1.12)" font-size="10" font-weight="normal" fill="#1e1e1e" >30'</text>
<text transform="translate(95.7,572.8) scale(1,1.12)" font-size="10" font-weight="normal" fill="#1e1e1e" >180'</text>
<text transform="translate(124.2,572.8) scale(1,1.12)" font-size="10" font-weight="normal" fill="#1e1e1e" >-</text>
<text transform="translate(138.15,572.8) scale(1,1.12)" font-size="10" font-weight="normal" fill="#1e1e1e" >30'</text>
<text transform="translate(156.8,572.8) scale(1,1.12)" font-size="10" font-weight="normal" fill="#1e1e1e" >180'</text>
<text transform="translate(183.1,572.8) scale(1,1.12)" font-size="10" font-weight="normal" fill="#1e1e1e" >-</text>
<text transform="translate(196.95,572.8) scale(1,1.12)" font-size="10" font-weight="normal" fill="#1e1e1e" >30'</text>
<text transform="translate(215.7,572.8) scale(1,1.12)" font-size="10" font-weight="normal" fill="#1e1e1e" >180'</text>
<line x1="64.0" y1="580.0" x2="106.8" y2="580.0" stroke="#222" stroke-width="1.1"/>
<line x1="125.6" y1="580.0" x2="169.4" y2="580.0" stroke="#222" stroke-width="1.1"/>
<line x1="182.0" y1="580.0" x2="224.6" y2="580.0" stroke="#222" stroke-width="1.1"/>
<text x="73.87" y="594.9" font-size="11" fill="#1a1a1a" stroke="#1a1a1a" stroke-width="0.3">BM</text>
<text x="142.16" y="594.9" font-size="11" fill="#1a1a1a" stroke="#1a1a1a" stroke-width="0.3">Sp</text>
<text x="195.37" y="594.9" font-size="11" fill="#1a1a1a" stroke="#1a1a1a" stroke-width="0.3">Bl</text>
<text transform="translate(206.29,592.3) scale(0.65,1)" font-size="8.6" fill="#222" stroke="#222" stroke-width="0.25">§</text>
<text x="278.21" y="421.3" font-size="17.5" font-weight="bold" fill="#111" >F</text>
<text x="364.2" y="429.9" font-size="13.1" font-weight="bold" fill="#111"><tspan>mNK (CD11b</tspan><tspan font-size="9" dx="0.3" dy="-3.9" letter-spacing="0.3">high</tspan><tspan dy="3.9">)</tspan></text>
<text transform="translate(290.35,554.87) rotate(-90)" font-size="12.9" font-weight="bold" fill="#111">Cell number x10<tspan font-size="8" dx="0.3" dy="-4.2">6</tspan></text>
<line x1="317.4" y1="453.4" x2="317.4" y2="562.1" stroke="#222" stroke-width="1.4"/>
<line x1="315.2" y1="453.4" x2="317.4" y2="453.4" stroke="#222" stroke-width="1.2"/>
<line x1="315.2" y1="471.13" x2="317.4" y2="471.13" stroke="#222" stroke-width="1.2"/>
<line x1="315.2" y1="488.86" x2="317.4" y2="488.86" stroke="#222" stroke-width="1.2"/>
<line x1="315.2" y1="506.59" x2="317.4" y2="506.59" stroke="#222" stroke-width="1.2"/>
<line x1="315.2" y1="524.32" x2="317.4" y2="524.32" stroke="#222" stroke-width="1.2"/>
<line x1="315.2" y1="542.05" x2="317.4" y2="542.05" stroke="#222" stroke-width="1.2"/>
<line x1="315.2" y1="559.78" x2="317.4" y2="559.78" stroke="#222" stroke-width="1.2"/>
<text transform="translate(295.6,458.3) scale(1,1.12)" font-size="10" font-weight="normal" fill="#1e1e1e">3.0</text>
<text transform="translate(296.25,475.2) scale(1,1.12)" font-size="10" font-weight="normal" fill="#1e1e1e">2.5</text>
<text transform="translate(296.2,493.6) scale(1,1.12)" font-size="10" font-weight="normal" fill="#1e1e1e">2.0</text>
<text transform="translate(296.65,511.3) scale(1,1.12)" font-size="10" font-weight="normal" fill="#1e1e1e">1.5</text>
<text transform="translate(295.5,529.5) scale(1,1.12)" font-size="10" font-weight="normal" fill="#1e1e1e">1.0</text>
<text transform="translate(296.65,546.7) scale(1,1.12)" font-size="10" font-weight="normal" fill="#1e1e1e">0.5</text>
<text transform="translate(299.95,564.4) scale(1,1.12)" font-size="10" font-weight="normal" fill="#1e1e1e">0</text>
<line x1="317.4" y1="559.5" x2="519.8" y2="559.5" stroke="#222" stroke-width="1.4"/>
<line x1="337.5" y1="559.5" x2="337.5" y2="562.1" stroke="#222" stroke-width="1.2"/>
<line x1="357.6" y1="559.5" x2="357.6" y2="562.1" stroke="#222" stroke-width="1.2"/>
<line x1="377.7" y1="559.5" x2="377.7" y2="562.1" stroke="#222" stroke-width="1.2"/>
<line x1="397.8" y1="559.5" x2="397.8" y2="562.1" stroke="#222" stroke-width="1.2"/>
<line x1="417.9" y1="559.5" x2="417.9" y2="562.1" stroke="#222" stroke-width="1.2"/>
<line x1="438.0" y1="559.5" x2="438.0" y2="562.1" stroke="#222" stroke-width="1.2"/>
<line x1="458.1" y1="559.5" x2="458.1" y2="562.1" stroke="#222" stroke-width="1.2"/>
<line x1="478.2" y1="559.5" x2="478.2" y2="562.1" stroke="#222" stroke-width="1.2"/>
<line x1="498.3" y1="559.5" x2="498.3" y2="562.1" stroke="#222" stroke-width="1.2"/>
<line x1="519.2" y1="559.5" x2="519.2" y2="562.1" stroke="#222" stroke-width="1.2"/>
<polyline points="337.5,510.2 357.6,534.1 377.7,525.5" fill="none" stroke="#000" stroke-width="1.8" stroke-linejoin="round"/>
<polyline points="397.8,518.6 417.9,519.8 438.0,516.1" fill="none" stroke="#000" stroke-width="1.8" stroke-linejoin="round"/>
<polyline points="458.1,525.6 478.2,507.6 498.3,509.2" fill="none" stroke="#000" stroke-width="1.8" stroke-linejoin="round"/>
<circle cx="337.5" cy="495.2" r="1.8" fill="#000"/>
<circle cx="337.5" cy="497.5" r="1.8" fill="#000"/>
<circle cx="337.5" cy="500.9" r="1.8" fill="#000"/>
<circle cx="337.5" cy="506.7" r="1.8" fill="#000"/>
<circle cx="337.5" cy="508.2" r="1.8" fill="#000"/>
<circle cx="337.5" cy="510.2" r="1.8" fill="#000"/>
<circle cx="337.5" cy="515.7" r="1.8" fill="#000"/>
<circle cx="337.5" cy="517.4" r="1.8" fill="#000"/>
<circle cx="337.5" cy="519.1" r="1.8" fill="#000"/>
<circle cx="337.5" cy="522.4" r="1.8" fill="#000"/>
<circle cx="357.6" cy="524.7" r="1.8" fill="#000"/>
<circle cx="357.6" cy="530.4" r="1.8" fill="#000"/>
<circle cx="357.6" cy="532.4" r="1.8" fill="#000"/>
<circle cx="357.6" cy="534.1" r="1.8" fill="#000"/>
<circle cx="357.6" cy="536.4" r="1.8" fill="#000"/>
<circle cx="357.6" cy="538.7" r="1.8" fill="#000"/>
<circle cx="357.6" cy="540.5" r="1.8" fill="#000"/>
<circle cx="357.6" cy="542.2" r="1.8" fill="#000"/>
<circle cx="377.7" cy="514.3" r="1.8" fill="#000"/>
<circle cx="377.7" cy="518.6" r="1.8" fill="#000"/>
<circle cx="377.7" cy="525.5" r="1.8" fill="#000"/>
<circle cx="377.7" cy="527.8" r="1.8" fill="#000"/>
<circle cx="377.7" cy="530.1" r="1.8" fill="#000"/>
<circle cx="377.7" cy="532.4" r="1.8" fill="#000"/>
<circle cx="397.8" cy="502.2" r="1.8" fill="#000"/>
<circle cx="397.8" cy="510.6" r="1.8" fill="#000"/>
<circle cx="397.8" cy="512.3" r="1.8" fill="#000"/>
<circle cx="397.8" cy="514.0" r="1.8" fill="#000"/>
<circle cx="397.8" cy="516.3" r="1.8" fill="#000"/>
<circle cx="397.8" cy="518.6" r="1.8" fill="#000"/>
<circle cx="397.8" cy="523.3" r="1.8" fill="#000"/>
<circle cx="397.8" cy="525.9" r="1.8" fill="#000"/>
<circle cx="397.8" cy="531.7" r="1.8" fill="#000"/>
<circle cx="397.8" cy="533.6" r="1.8" fill="#000"/>
<circle cx="417.9" cy="500.2" r="1.8" fill="#000"/>
<circle cx="417.9" cy="510.0" r="1.8" fill="#000"/>
<circle cx="417.9" cy="512.3" r="1.8" fill="#000"/>
<circle cx="417.9" cy="514.4" r="1.8" fill="#000"/>
<circle cx="417.9" cy="519.8" r="1.8" fill="#000"/>
<circle cx="417.9" cy="521.3" r="1.8" fill="#000"/>
<circle cx="417.9" cy="524.8" r="1.8" fill="#000"/>
<circle cx="417.9" cy="534.8" r="1.8" fill="#000"/>
<circle cx="417.9" cy="542.1" r="1.8" fill="#000"/>
<circle cx="438.0" cy="508.8" r="1.8" fill="#000"/>
<circle cx="438.0" cy="510.9" r="1.8" fill="#000"/>
<circle cx="438.0" cy="512.9" r="1.8" fill="#000"/>
<circle cx="438.0" cy="516.1" r="1.8" fill="#000"/>
<circle cx="438.0" cy="522.5" r="1.8" fill="#000"/>
<circle cx="438.0" cy="529.6" r="1.8" fill="#000"/>
<circle cx="458.1" cy="504.1" r="1.8" fill="#000"/>
<circle cx="458.1" cy="514.9" r="1.8" fill="#000"/>
<circle cx="458.1" cy="517.5" r="1.8" fill="#000"/>
<circle cx="458.1" cy="522.9" r="1.8" fill="#000"/>
<circle cx="458.1" cy="525.6" r="1.8" fill="#000"/>
<circle cx="458.1" cy="528.0" r="1.8" fill="#000"/>
<circle cx="458.1" cy="529.6" r="1.8" fill="#000"/>
<circle cx="458.1" cy="534.4" r="1.8" fill="#000"/>
<circle cx="458.1" cy="536.0" r="1.8" fill="#000"/>
<circle cx="458.1" cy="542.5" r="1.8" fill="#000"/>
<circle cx="478.2" cy="469.7" r="1.8" fill="#000"/>
<circle cx="478.2" cy="486.2" r="1.8" fill="#000"/>
<circle cx="478.2" cy="507.6" r="1.8" fill="#000"/>
<circle cx="478.2" cy="509.2" r="1.8" fill="#000"/>
<circle cx="478.2" cy="519.7" r="1.8" fill="#000"/>
<circle cx="478.2" cy="525.6" r="1.8" fill="#000"/>
<circle cx="478.2" cy="534.0" r="1.8" fill="#000"/>
<circle cx="498.3" cy="493.4" r="1.8" fill="#000"/>
<circle cx="498.3" cy="497.2" r="1.8" fill="#000"/>
<circle cx="498.3" cy="500.1" r="1.8" fill="#000"/>
<circle cx="498.3" cy="509.2" r="1.8" fill="#000"/>
<circle cx="498.3" cy="513.3" r="1.8" fill="#000"/>
<circle cx="498.3" cy="527.3" r="1.8" fill="#000"/>
<circle cx="498.3" cy="539.4" r="1.8" fill="#000"/>
<text x="358.8" y="494.05" font-size="14.5" text-anchor="middle" fill="#4a4a4a" stroke="#4a4a4a" stroke-width="0.45" stroke-linejoin="round">*</text>
<text x="376.4" y="494.05" font-size="14.5" text-anchor="middle" fill="#4a4a4a" stroke="#4a4a4a" stroke-width="0.45" stroke-linejoin="round">*</text>
<text x="478.9" y="463.55" font-size="14.5" text-anchor="middle" fill="#4a4a4a" stroke="#4a4a4a" stroke-width="0.45" stroke-linejoin="round">*</text>
<text transform="translate(334.8,572.6) scale(1,1.12)" font-size="10" font-weight="normal" fill="#1e1e1e" >-</text>
<text transform="translate(352.75,572.6) scale(1,1.12)" font-size="10" font-weight="normal" fill="#1e1e1e" >30'</text>
<text transform="translate(365.1,572.6) scale(1,1.12)" font-size="10" font-weight="normal" fill="#1e1e1e" >180'</text>
<text transform="translate(397.1,572.6) scale(1,1.12)" font-size="10" font-weight="normal" fill="#1e1e1e" >-</text>
<text transform="translate(413.85,572.6) scale(1,1.12)" font-size="10" font-weight="normal" fill="#1e1e1e" >30'</text>
<text transform="translate(427.4,572.6) scale(1,1.12)" font-size="10" font-weight="normal" fill="#1e1e1e" >180'</text>
<text transform="translate(458.2,572.6) scale(1,1.12)" font-size="10" font-weight="normal" fill="#1e1e1e" >-</text>
<text transform="translate(472.15,572.6) scale(1,1.12)" font-size="10" font-weight="normal" fill="#1e1e1e" >30'</text>
<text transform="translate(490.8,572.6) scale(1,1.12)" font-size="10" font-weight="normal" fill="#1e1e1e" >180'</text>
<line x1="339.6" y1="580.2" x2="382.8" y2="580.2" stroke="#222" stroke-width="1.1"/>
<line x1="398.75" y1="580.2" x2="441.25" y2="580.2" stroke="#222" stroke-width="1.1"/>
<line x1="456.25" y1="580.2" x2="500.0" y2="580.2" stroke="#222" stroke-width="1.1"/>
<text x="349.27" y="594.9" font-size="11" fill="#1a1a1a" stroke="#1a1a1a" stroke-width="0.3">BM</text>
<text x="413.61" y="594.9" font-size="11" fill="#1a1a1a" stroke="#1a1a1a" stroke-width="0.3">Sp</text>
<text x="470.72" y="594.9" font-size="11" fill="#1a1a1a" stroke="#1a1a1a" stroke-width="0.3">Bl</text>
<text transform="translate(481.64,592.3) scale(0.65,1)" font-size="8.6" fill="#222" stroke="#222" stroke-width="0.25">§</text>
</g>
</svg></div>
</body></html>
